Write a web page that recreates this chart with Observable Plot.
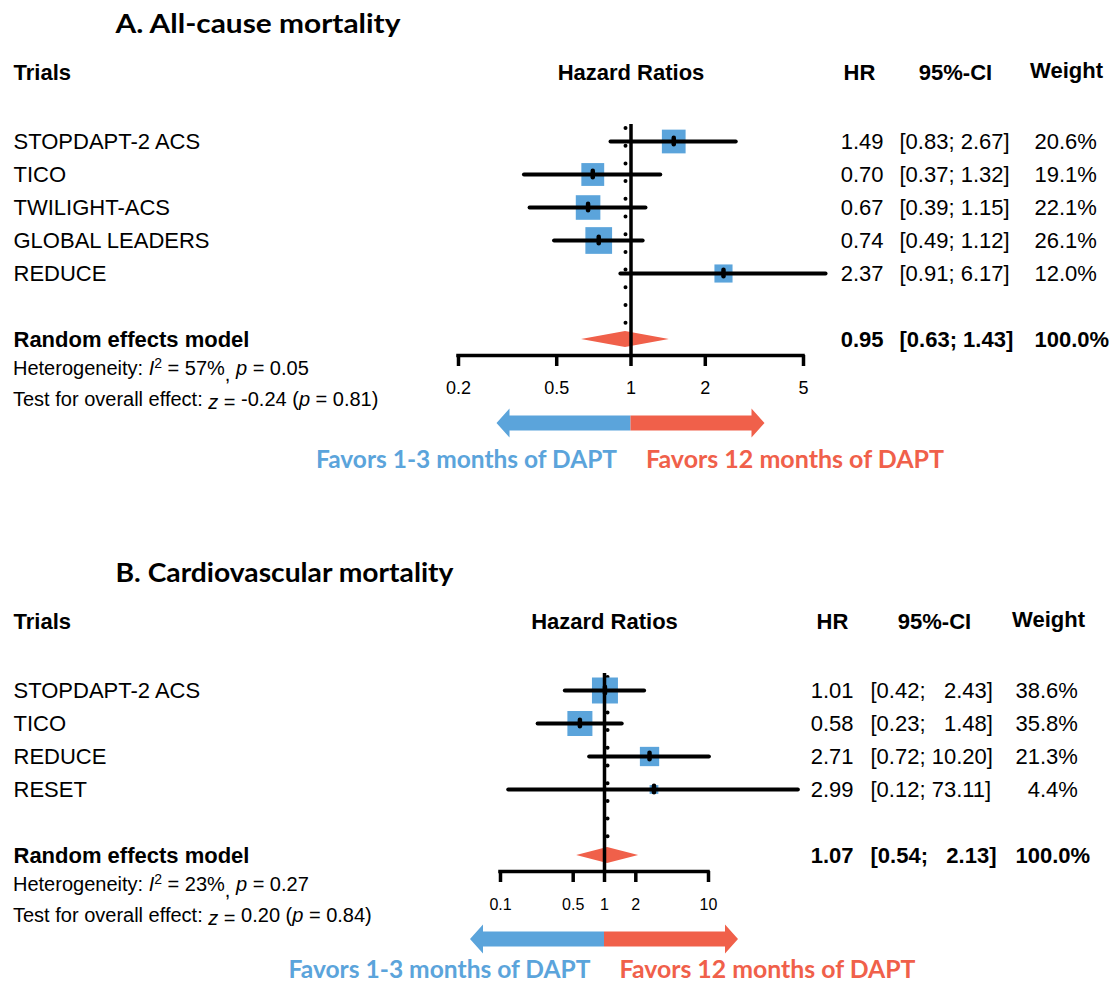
<!DOCTYPE html>
<html><head><meta charset="utf-8">
<script src="https://cdn.jsdelivr.net/npm/d3@7"></script>
<script src="https://cdn.jsdelivr.net/npm/@observablehq/plot@0.6"></script>
<style>body{margin:0;background:#fff} svg{display:block}</style>
</head><body><div id="chart"></div>
<script>
// ---------- Panel A: All-cause mortality ----------
const titleA = "A. All-cause mortality";
const trialsA = ["STOPDAPT-2 ACS", "TICO", "TWILIGHT-ACS", "GLOBAL LEADERS", "REDUCE"];
const hrA = [1.49, 0.70, 0.67, 0.74, 2.37];
const lowerA = [0.83, 0.37, 0.39, 0.49, 0.91];
const upperA = [2.67, 1.32, 1.15, 1.12, 6.17];
const weightA = [20.6, 19.1, 22.1, 26.1, 12.0];
const summaryA = [0.95, 0.63, 1.43, 100.0];     // HR, lower, upper, weight
const ticksA = [0.2, 0.5, 1, 2, 5];
const hetA = ["57%", "0.05"];                    // I², p
const testA = ["-0.24", "0.81"];                 // z, p

// ---------- Panel B: Cardiovascular mortality ----------
const titleB = "B. Cardiovascular mortality";
const trialsB = ["STOPDAPT-2 ACS", "TICO", "REDUCE", "RESET"];
const hrB = [1.01, 0.58, 2.71, 2.99];
const lowerB = [0.42, 0.23, 0.72, 0.12];
const upperB = [2.43, 1.48, 10.20, 73.11];
const weightB = [38.6, 35.8, 21.3, 4.4];
const summaryB = [1.07, 0.54, 2.13, 100.0];
const ticksB = [0.1, 0.5, 1, 2, 10];
const hetB = ["23%", "0.27"];
const testB = ["0.20", "0.84"];

const favorsLabels = ["Favors 1-3 months of DAPT", "Favors 12 months of DAPT"];
const headers = ["Trials", "Hazard Ratios", "HR", "95%-CI", "Weight"];
const summaryLabel = "Random effects model";

const BLUE = "#5BA4DB", RED = "#F0604A";
const ARIAL = "Liberation Sans, Arial, sans-serif";
const CAL = "Lato, Carlito, Calibri, sans-serif";

function richText(yRow, segs, size) {
  return (index, scales) => {
    const t = d3.create("svg:text")
      .attr("x", 13).attr("y", scales.y(yRow)).attr("dy", "0.32em")
      .attr("text-anchor", "start")
      .attr("font-family", ARIAL).attr("font-size", size).attr("fill", "#000")
      .style("white-space", "pre");
    let cur = 0;
    for (const s of segs) {
      const target = s.sup ? -7 : s.sub ? 6 : s.low ? 3 : 0;
      const ts = t.append("tspan").text(s.t);
      if (target !== cur) ts.attr("dy", target - cur);
      cur = target;
      if (s.i) ts.attr("font-style", "italic");
      if (s.sup) ts.attr("font-size", size * 0.7);
    }
    return t.node();
  };
}

function arrows(yRow) {
  return (index, scales) => {
    const cx = scales.x(1), cy = scales.y(yRow);
    const L = 134, hl = 13, bh = 7.5, hh = 14.5;
    const g = d3.create("svg:g");
    g.append("path").attr("fill", BLUE)
      .attr("d", `M${cx},${cy - bh}H${cx - L + hl}V${cy - hh}L${cx - L},${cy}L${cx - L + hl},${cy + hh}V${cy + bh}H${cx}Z`);
    g.append("path").attr("fill", RED)
      .attr("d", `M${cx},${cy - bh}H${cx + L - hl}V${cy - hh}L${cx + L},${cy}L${cx + L - hl},${cy + hh}V${cy + bh}H${cx}Z`);
    return g.node();
  };
}

function forest(p) {
  const n = p.trials.length;
  const R = px => px / 33;
  const rows = p.trials.map((t, i) => ({t, i, hr: p.hr[i], lo: p.lower[i], hi: p.upper[i], w: p.weight[i]}));
  const S = n + 1;
  const sum = {t: summaryLabel, i: S, hr: p.summary[0], lo: p.summary[1], hi: p.summary[2], w: p.summary[3]};
  const all = [...rows, sum];
  const hiLen = d3.max(all, d => d.hi.toFixed(2).length);
  const wLen = d3.max(rows, d => (d.w.toFixed(1) + "%").length);
  const ciText = d => `[${d.lo.toFixed(2)}; ${d.hi.toFixed(2).padStart(hiLen, "\u2007")}]`;
  const wText = d => d === sum ? d.w.toFixed(1) + "%" : (d.w.toFixed(1) + "%").padStart(wLen, "\u2007");

  const axisRow = S + R(16);
  const tickRow = S + R(49);
  const hetRow = S + R(30);
  const testRow = S + R(61);
  const arrowRow = S + R(84);
  const favRow = S + R(p.favOff);
  const headRow = R(-69);
  const titleRow = R(-117);
  const h = R(8);

  const txt = (data, o) => Plot.text(data, {fontFamily: ARIAL, fontSize: 22, fill: "#000", ...o});
  const cols = (data, weight) => [
    txt(data, {frameAnchor: "left", dx: 13, y: "i", text: "t", textAnchor: "start", fontWeight: weight}),
    txt(data, {frameAnchor: "left", dx: p.hrX, y: "i", text: d => d.hr.toFixed(2), textAnchor: "end", fontWeight: weight}),
    txt(data, {frameAnchor: "left", dx: p.ciX, y: "i", text: ciText, textAnchor: "start", fontWeight: weight}),
    txt(data, {frameAnchor: "left", dx: p.wX, y: "i", text: wText, textAnchor: "start", fontWeight: weight})
  ];
  const diamond = [
    {x: sum.lo, y1: S, y2: S},
    {x: sum.hr, y1: S - h, y2: S + h},
    {x: sum.hi, y1: S, y2: S}
  ];

  const svg = Plot.plot({
    width: 1109, height: p.height, margin: 0,
    style: {background: "#fff"},
    x: {type: "log", domain: [p.ticks[0], p.ticks[p.ticks.length - 1]], range: p.range, axis: null},
    y: {type: "linear", domain: [0, 1], range: [141, 174], axis: null},
    r: {type: "sqrt", domain: [0, 100], range: [0, p.rmax]},
    marks: [
      // dotted line at the pooled estimate
      Plot.ruleX([sum.hr], {y1: R(-13), y2: S - R(16), stroke: "#000", strokeWidth: 4, strokeDasharray: "0,17.7", strokeLinecap: "round"}),
      // squares
      Plot.dot(rows, {x: "hr", y: "i", r: "w", symbol: "square", fill: BLUE, stroke: "none"}),
      // CIs
      Plot.ruleY(rows, {y: "i", x1: "lo", x2: "hi", stroke: "#000", strokeWidth: 4, strokeLinecap: "round"}),
      Plot.ruleX(rows, {x: "hr", y1: d => d.i - 0.1, y2: d => d.i + 0.1, stroke: "#000", strokeWidth: 4.5, strokeLinecap: "round"}),
      // diamond
      Plot.area(diamond, {x1: "x", y1: "y1", y2: "y2", fill: RED, curve: "linear"}),
      // line of no effect
      Plot.ruleX([1], {y1: R(-17), y2: axisRow, stroke: "#000", strokeWidth: 3.5}),
      // axis
      Plot.ruleY([axisRow], {x1: p.ticks[0], x2: p.ticks[p.ticks.length - 1], stroke: "#000", strokeWidth: 3.5, strokeLinecap: "square"}),
      Plot.ruleX(p.ticks, {x: d => d, y1: axisRow, y2: axisRow + R(11), stroke: "#000", strokeWidth: 3.5}),
      Plot.text(p.ticks, {x: d => d, y: () => tickRow, text: d => String(d), fontFamily: ARIAL, fontSize: p.tickSize, fill: "#000"}),
      // titles and headers
      Plot.text([p.title], {frameAnchor: "left", dx: 115, y: () => titleRow, textAnchor: "start", fontFamily: CAL, fontWeight: "bold", fontSize: 26, fill: "#000"}),
      txt([headers[0]], {frameAnchor: "left", dx: 13, y: () => headRow, textAnchor: "start", fontWeight: "bold"}),
      txt([headers[1]], {x: () => 1, y: () => headRow, textAnchor: "middle", fontWeight: "bold"}),
      txt([headers[2]], {frameAnchor: "left", dx: p.cols[0], y: () => headRow, textAnchor: "middle", fontWeight: "bold"}),
      txt([headers[3]], {frameAnchor: "left", dx: p.cols[1], y: () => headRow, textAnchor: "middle", fontWeight: "bold"}),
      txt([headers[4]], {frameAnchor: "left", dx: p.cols[2], y: () => headRow - R(2), textAnchor: "middle", fontWeight: "bold"}),
      // study rows text
      ...cols(rows, "normal"),
      ...cols([sum], "bold"),
      // statistics
      richText(hetRow, [{t: "Heterogeneity: "}, {t: "I", i: 1}, {t: "2", sup: 1}, {t: " = " + p.het[0]}, {t: ",", sub: 1}, {t: " "}, {t: "p", i: 1}, {t: " = " + p.het[1]}], 20),
      richText(testRow, [{t: "Test for overall effect: "}, {t: "z", i: 1, low: 1}, {t: " = ", low: 1}, {t: p.test[0] + " ("}, {t: "p", i: 1}, {t: " = " + p.test[1] + ")"}], 20),
      // favours arrows and labels
      arrows(arrowRow),
      Plot.text([favorsLabels[0]], {x: () => 1, y: () => favRow, dx: -14, textAnchor: "end", fill: BLUE, fontFamily: CAL, fontWeight: "bold", fontSize: 24}),
      Plot.text([favorsLabels[1]], {x: () => 1, y: () => favRow, dx: 15, textAnchor: "start", fill: RED, fontFamily: CAL, fontWeight: "bold", fontSize: 24})
    ]
  });
  // stretch the Calibri-like texts to the widths they have in the reference
  const fit = p.fit;
  d3.select(svg).selectAll("text").each(function () {
    const w = fit[this.textContent];
    if (w) d3.select(this).attr("textLength", w).attr("lengthAdjust", "spacingAndGlyphs");
  });
  return svg;
}

const chart = document.getElementById("chart");
chart.append(forest({
  title: titleA, trials: trialsA, hr: hrA, lower: lowerA, upper: upperA, weight: weightA,
  summary: summaryA, ticks: ticksA, het: hetA, test: testA,
  height: 549, range: [458, 803], rmax: 29.5, tickSize: 18, favOff: 121,
  cols: [859, 955, 1066], hrX: 883, ciX: 899, wX: 1034,
  fit: {[titleA]: 285, [favorsLabels[0]]: 301, [favorsLabels[1]]: 298}
}));
chart.append(forest({
  title: titleB, trials: trialsB, hr: hrB, lower: lowerB, upper: upperB, weight: weightB,
  summary: summaryB, ticks: ticksB, het: hetB, test: testB,
  height: 435, range: [500, 708], rmax: 23.6, tickSize: 16, favOff: 115,
  cols: [832, 934, 1048], hrX: 853, ciX: 870, wX: 1015,
  fit: {[titleB]: 338, [favorsLabels[0]]: 302, [favorsLabels[1]]: 296}
}));
</script>
</body></html>
